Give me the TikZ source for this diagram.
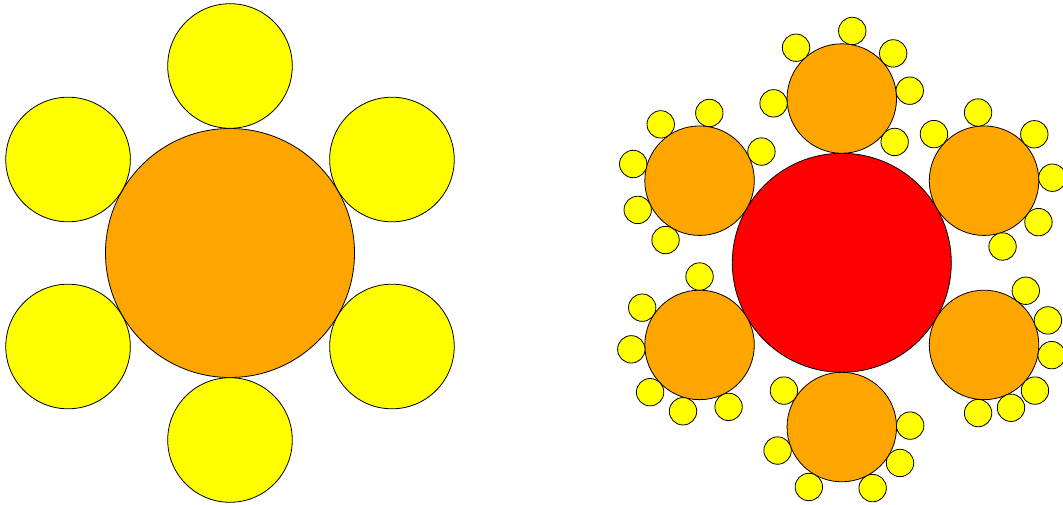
\documentclass[tikz,border=0pt]{standalone}
\usetikzlibrary{calc}
\definecolor{orng}{HTML}{FFA500}
\definecolor{ylw}{HTML}{FFFF00}
\definecolor{rd}{HTML}{FF0000}
\begin{document}
\begin{tikzpicture}[x=1pt,y=1pt,
  disc/.style={circle,draw=black,line width=0.8pt,inner sep=0pt},
  bigorange/.style={disc,fill=orng,minimum size=249pt},
  bigyellow/.style={disc,fill=ylw,minimum size=124.6pt},
  reddisc/.style={disc,fill=rd,minimum size=219pt},
  middisc/.style={disc,fill=orng,minimum size=109.5pt},
  smalldisc/.style={disc,fill=ylw,minimum size=27.4pt}]
\useasboundingbox (0,0) rectangle (1063,504);
\clip (0,0) rectangle (1063,504);
% left flower
\node[bigorange] (L) at (230,251) {};
\foreach \a [count=\i] in {90,30,-30,-90,-150,150}
  \node[bigyellow] (L\i) at ($(L.center)+(\a:187pt)$) {};
% right flower
\node[reddisc] (R) at (841.8,241.2) {};
\foreach \oa/\angs [count=\i] in {
   90/{132,184,81.2,41.3,6.6,-39.4},
   30/{137.1,95,42.7,2.5,-37.3,-74.3},
   -30/{52.4,21,-8.6,-41.9,-66.8,-95},
   -90/{147.8,200.1,241.2,1.2,-31.7,-63.2},
   -150/{90,147,183.7,223.7,256,295.1},
   150/{81.8,124.6,25.2,165.9,205.3,240.2}} {
  \node[middisc] (O\i) at ($(R.center)+(\oa:164.25pt)$) {};
  \foreach \b [count=\j] in \angs
    \node[smalldisc] (Y\i-\j) at ($(O\i.center)+(\b:68.4pt)$) {};
}
\end{tikzpicture}
\end{document}
